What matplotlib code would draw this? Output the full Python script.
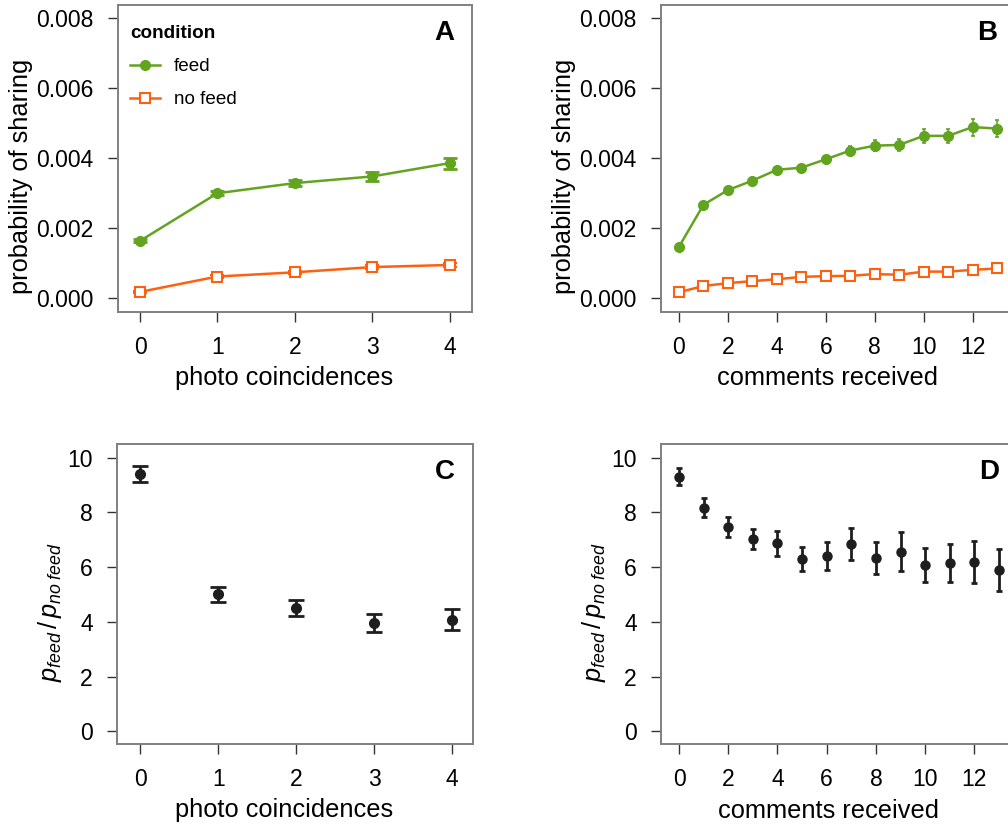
import numpy as np
import matplotlib
matplotlib.use("Agg")
import matplotlib.pyplot as plt

plt.rcParams['font.family'] = ['Liberation Sans', 'DejaVu Sans']
plt.rcParams['mathtext.fontset'] = 'custom'
plt.rcParams['mathtext.it'] = 'Liberation Sans:italic'
plt.rcParams['mathtext.rm'] = 'Liberation Sans'

GREEN = '#62a420'
ORANGE = '#ff6010'
DARK = '#1e1e1e'

# sharing probability vs. photo coincidences
photo_x = [0, 1, 2, 3, 4]
photo_feed = [0.00164, 0.00300, 0.00329, 0.00348, 0.00386]
photo_feed_err = [0.00004, 0.00006, 0.00009, 0.00013, 0.00016]
photo_nofeed = [0.00018, 0.00062, 0.00074, 0.00089, 0.00095]
photo_nofeed_err = [0.00003, 0.00004, 0.00005, 0.00006, 0.00007]

# sharing probability vs. comments received
comm_x = list(range(14))
comm_feed = [0.00147, 0.00267, 0.00309, 0.00336, 0.00367, 0.00373, 0.00397,
             0.00422, 0.00436, 0.00438, 0.00464, 0.00464, 0.00489, 0.00485]
comm_feed_err = [0.00003, 0.00004, 0.00004, 0.00005, 0.00006, 0.00007, 0.00010,
                 0.00013, 0.00016, 0.00018, 0.00019, 0.00020, 0.00024, 0.00025]
comm_nofeed = [0.00017, 0.00035, 0.00043, 0.00049, 0.00054, 0.00061, 0.00063,
               0.00064, 0.00069, 0.00067, 0.00076, 0.00076, 0.00081, 0.00085]
comm_nofeed_err = [0.00002, 0.00003, 0.00003, 0.00003, 0.00004, 0.00004, 0.00004,
                   0.00004, 0.00005, 0.00005, 0.00006, 0.00006, 0.00006, 0.00007]

# ratio feed / no feed
photo_ratio = [9.39, 5.01, 4.50, 3.96, 4.08]
photo_ratio_err = [0.29, 0.27, 0.30, 0.32, 0.38]
comm_ratio = [9.31, 8.18, 7.47, 7.03, 6.87, 6.29, 6.41, 6.84, 6.33, 6.57,
              6.08, 6.15, 6.20, 5.89]
comm_ratio_err = [0.30, 0.33, 0.35, 0.38, 0.45, 0.43, 0.52, 0.59, 0.58, 0.71,
                  0.63, 0.70, 0.76, 0.76]

fig = plt.figure(figsize=(10.08, 8.25), dpi=100)
W, H = 1008, 825


def add_axes(left, top, right, bottom):
    return fig.add_axes([left / W, 1 - bottom / H, (right - left) / W, (bottom - top) / H])


axA = add_axes(118, 5, 472, 311.5)
axB = add_axes(661, 5, 1015, 311.5)
axC = add_axes(117, 444, 473, 744)
axD = add_axes(661, 444, 1017, 744)

TICK_FS = 16.5
LABEL_FS = 18.3


def style(ax, letter):
    for s in ax.spines.values():
        s.set_color('#808080')
        s.set_linewidth(1.4)
    ax.tick_params(direction='out', length=7.5, width=1, color='#333333',
                   labelsize=TICK_FS, pad=10)
    ax.text(0.95, 0.95, letter, transform=ax.transAxes, ha='right', va='top',
            fontsize=20, fontweight='bold')


def place_labels(ax, ylab_right_px, ylab_frac):
    # axis titles sit a little off-centre, as in R's mtext output
    h = ax.get_position().height * H
    w = ax.get_position().width * W
    ax.xaxis.set_label_coords(0.47, -54.5 / h)
    ax.yaxis.set_label_coords(-ylab_right_px / w, ylab_frac)


# A
axA.errorbar(photo_x, photo_feed, yerr=photo_feed_err, fmt='none', ecolor=GREEN,
             elinewidth=1.8, capsize=5, capthick=2)
axA.plot(photo_x, photo_feed, '-o', color=GREEN, lw=1.8, ms=7, label='feed')
axA.errorbar(photo_x, photo_nofeed, yerr=photo_nofeed_err, fmt='none', ecolor=ORANGE,
             elinewidth=1.5, capsize=5, capthick=1.5)
axA.plot(photo_x, photo_nofeed, '-s', color=ORANGE, lw=1.8, ms=7.5, mfc='white',
         mec=ORANGE, mew=1.5, label='no feed')
axA.set_xlim(-0.285, 4.29)
axA.set_ylim(-0.00038, 0.00838)
axA.set_xticks(photo_x)
axA.set_yticks([0, 0.002, 0.004, 0.006, 0.008])
axA.set_yticklabels(['0.000', '0.002', '0.004', '0.006', '0.008'])
axA.set_xlabel('photo coincidences', fontsize=LABEL_FS)
axA.set_ylabel('probability of sharing', fontsize=LABEL_FS)
style(axA, 'A')
axA.legend(loc='upper left', bbox_to_anchor=(0.035, 0.935), frameon=False,
           title='condition', alignment='left', fontsize=13.6,
           title_fontproperties={'weight': 'bold', 'size': 13.6},
           handlelength=1.55, handletextpad=0.75, labelspacing=0.85,
           borderpad=0, borderaxespad=0)
place_labels(axA, 85, 0.44)

# B
axB.errorbar(comm_x, comm_feed, yerr=comm_feed_err, fmt='none', ecolor=GREEN,
             elinewidth=1.2, capsize=1.5, capthick=1.2)
axB.plot(comm_x, comm_feed, '-o', color=GREEN, lw=1.8, ms=7)
axB.errorbar(comm_x, comm_nofeed, yerr=comm_nofeed_err, fmt='none', ecolor=ORANGE,
             elinewidth=1.2, capsize=1.5, capthick=1.2)
axB.plot(comm_x, comm_nofeed, '-s', color=ORANGE, lw=1.8, ms=7.5, mfc='white',
         mec=ORANGE, mew=1.5)
axB.set_xlim(-0.735, 13.735)
axB.set_ylim(-0.00038, 0.00838)
axB.set_xticks(range(0, 14, 2))
axB.set_yticks([0, 0.002, 0.004, 0.006, 0.008])
axB.set_yticklabels(['0.000', '0.002', '0.004', '0.006', '0.008'])
axB.set_xlabel('comments received', fontsize=LABEL_FS)
axB.set_ylabel('probability of sharing', fontsize=LABEL_FS)
style(axB, 'B')
place_labels(axB, 85, 0.44)

ratio_label = r'$p_{feed}\,/\,p_{no\ feed}$'

# C
axC.errorbar(photo_x, photo_ratio, yerr=photo_ratio_err, fmt='o', color=DARK,
             ms=7, elinewidth=2, capsize=6, capthick=2)
axC.set_xlim(-0.30, 4.27)
axC.set_ylim(-0.46, 10.5)
axC.set_xticks(photo_x)
axC.set_yticks(range(0, 11, 2))
axC.set_xlabel('photo coincidences', fontsize=LABEL_FS)
axC.set_ylabel(ratio_label, fontsize=LABEL_FS)
style(axC, 'C')
place_labels(axC, 53, 0.44)

# D
axD.errorbar(comm_x, comm_ratio, yerr=comm_ratio_err, fmt='o', color=DARK,
             ms=6.5, elinewidth=2, capsize=2, capthick=2)
axD.set_xlim(-0.735, 13.735)
axD.set_ylim(-0.46, 10.5)
axD.set_xticks(range(0, 14, 2))
axD.set_yticks(range(0, 11, 2))
axD.set_xlabel('comments received', fontsize=LABEL_FS)
axD.set_ylabel(ratio_label, fontsize=LABEL_FS)
style(axD, 'D')
place_labels(axD, 53, 0.44)

fig.savefig('out.png', dpi=100)
